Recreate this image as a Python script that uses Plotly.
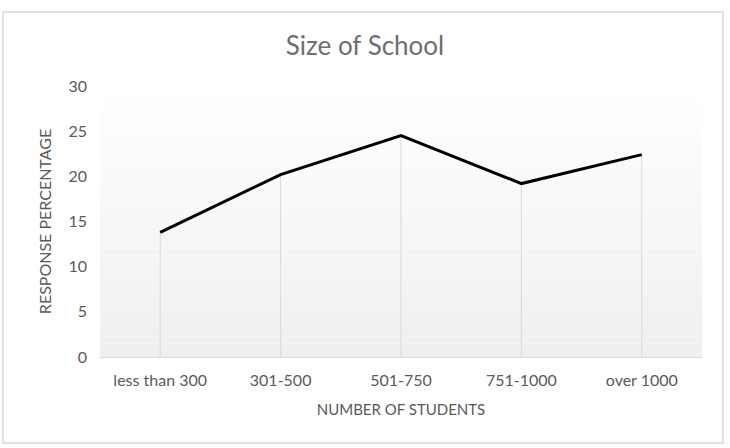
import plotly.graph_objects as go

categories = ["less than 300", "301-500", "501-750", "751-1000", "over 1000"]
values = [13.8, 20.2, 24.5, 19.2, 22.4]
y_ticks = [0, 5, 10, 15, 20, 25, 30]

fig = go.Figure()

# drop lines from each point to the axis
dx, dy = [], []
for c, v in zip(categories, values):
    dx += [c, c, None]
    dy += [0, v, None]
fig.add_trace(go.Scatter(x=dx, y=dy, mode="lines",
                         line=dict(color="#d9d9d9", width=1),
                         hoverinfo="skip", showlegend=False))

fig.add_trace(go.Scatter(x=categories, y=values, mode="lines",
                         line=dict(color="#000000", width=3),
                         showlegend=False))

# gradient background in plot area
shapes = []
n = 40
for i in range(n):
    t = i / (n - 1)
    g = int(round(255 - (255 - 239) * t))
    col = f"rgb({g},{g},{g})"
    shapes.append(dict(type="rect", xref="x domain", yref="y domain",
                       x0=0, x1=1, y0=1 - (i + 1) / n, y1=1 - i / n,
                       fillcolor=col, line=dict(width=0), layer="below"))
# outer chart border
shapes.append(dict(type="rect", xref="paper", yref="paper",
                   x0=-97/602, x1=(723-100)/602, y0=-(443-357)/271, y1=(357-12)/271,
                   line=dict(color="#d9d9d9", width=1.5), fillcolor="rgba(0,0,0,0)",
                   layer="below"))

font = "Lato, 'Open Sans', sans-serif"
fig.update_layout(
    width=730, height=448,
    margin=dict(l=100, r=28, t=86, b=91, autoexpand=False),
    paper_bgcolor="white", plot_bgcolor="white",
    shapes=shapes,
    title=dict(text="Size of School", x=0.5, xanchor="center",
               y=1 - 46/448, yanchor="middle",
               font=dict(family=font, size=26, color="#6e6e6e")),
    font=dict(family=font, color="#595959"),
    xaxis=dict(range=[-0.5, 4.5], showgrid=False, showline=True, linecolor="#d9d9d9",
               linewidth=1, automargin=False,
               ticks="", tickfont=dict(size=16, color="#595959"),
               ticklabelstandoff=9,
               title=dict(text="NUMBER OF STUDENTS", font=dict(size=15, color="#595959"),
                          standoff=16)),
    yaxis=dict(range=[0, 30], tickvals=y_ticks, showgrid=False, zeroline=False,
               showline=False, ticks="", tickfont=dict(size=16, color="#595959"),
               ticklabelstandoff=12, automargin=False,
               title=dict(text="RESPONSE PERCENTAGE", font=dict(size=16, color="#595959"),
                          standoff=12)),
)

fig.write_html("out.html")
